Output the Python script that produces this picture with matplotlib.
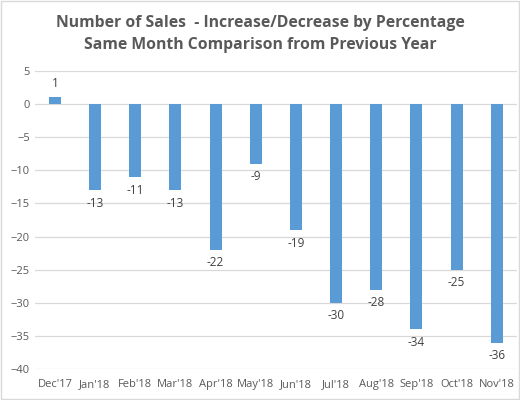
import matplotlib.pyplot as plt
from matplotlib.patches import Rectangle

months = ["Dec'17", "Jan'18", "Feb'18", "Mar'18", "Apr'18", "May'18",
          "Jun'18", "Jul'18", "Aug'18", "Sep'18", "Oct'18", "Nov'18"]
change = [1, -13, -11, -13, -22, -9, -19, -30, -28, -34, -25, -36]
yticks = [5, 0, -5, -10, -15, -20, -25, -30, -35, -40]

plt.rcParams['font.family'] = ['Open Sans', 'DejaVu Sans']

fig = plt.figure(figsize=(5.2, 4.0), dpi=100)
ax = fig.add_axes([0.067, 0.0775, 0.927, 0.745])

x = range(len(months))
ax.bar(x, change, width=0.3, color='#5B9BD5', zorder=3)

# value labels
for i, v in zip(x, change):
    if v >= 0:
        ax.text(i, v + 1.2, str(v), ha='center', va='bottom', fontsize=8.5, color='#404040')
    else:
        ax.text(i, v - 1.0, str(v), ha='center', va='top', fontsize=8.5, color='#404040')

ax.set_ylim(-40, 5)
ax.set_xlim(-0.5, len(months) - 0.5)
ax.set_yticks(yticks)
ax.set_xticks(list(x))
ax.set_xticklabels(months)
ax.tick_params(axis='both', length=0, labelsize=8, colors='#595959')
ax.tick_params(axis='x', pad=7)
ax.grid(axis='y', color='#D9D9D9', linewidth=0.9, zorder=0)
for s in ax.spines.values():
    s.set_visible(False)

fig.text(0.5, 0.915, 'Number of Sales  - Increase/Decrease by Percentage\nSame Month Comparison from Previous Year',
         ha='center', va='center', fontsize=11.3, fontweight='bold', color='#595959', linespacing=1.45)

# light border around the chart area
fig.patches.append(Rectangle((0.002, 0.002), 0.996, 0.996, transform=fig.transFigure,
                             fill=False, edgecolor='#D9D9D9', linewidth=1))

fig.savefig('out.png', dpi=100)
